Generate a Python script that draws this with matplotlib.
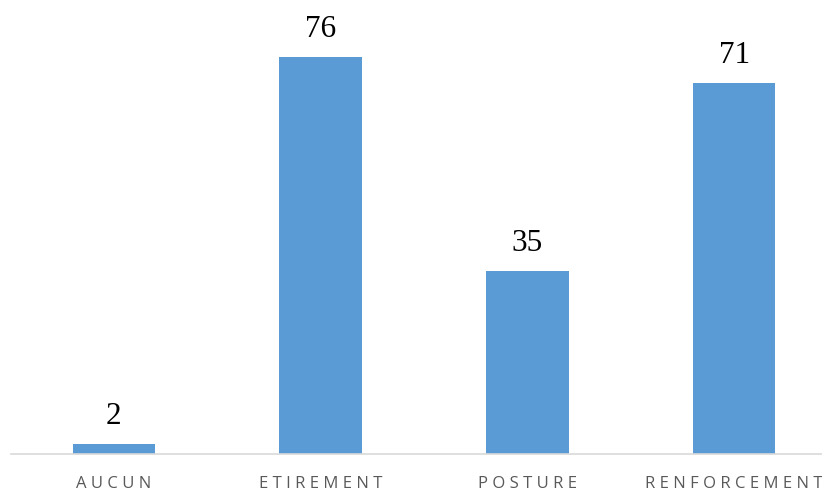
import matplotlib.pyplot as plt

categories = ['AUCUN', 'ETIREMENT', 'POSTURE', 'RENFORCEMENT']
values = [2, 76, 35, 71]

fig = plt.figure(figsize=(8.22, 4.91), dpi=100)
ax = fig.add_axes([0.0128, 0.0754, 1.006, 0.85])

x = range(len(categories))
bars = ax.bar(x, values, width=0.4, color='#5B9BD5', zorder=2)

# value labels above each bar
for b, v in zip(bars, values):
    ax.text(b.get_x() + b.get_width() / 2, v + 2.4, str(v),
            ha='center', va='bottom', fontsize=22.5,
            family='Liberation Serif', color='black')

ax.set_xlim(-0.5, 3.5)
ax.set_ylim(0, 79.8)
ax.set_yticks([])
ax.set_xticks(list(x))
# letter-spaced category names
ax.set_xticklabels([' '.join(c) for c in categories], fontsize=12,
                   family='Open Sans', color='#595959')
ax.tick_params(axis='x', length=0, pad=15.5)

for side in ['top', 'right', 'left']:
    ax.spines[side].set_visible(False)
ax.spines['bottom'].set_color('#D9D9D9')
ax.spines['bottom'].set_linewidth(1.2)

fig.savefig('out.png', dpi=100)
